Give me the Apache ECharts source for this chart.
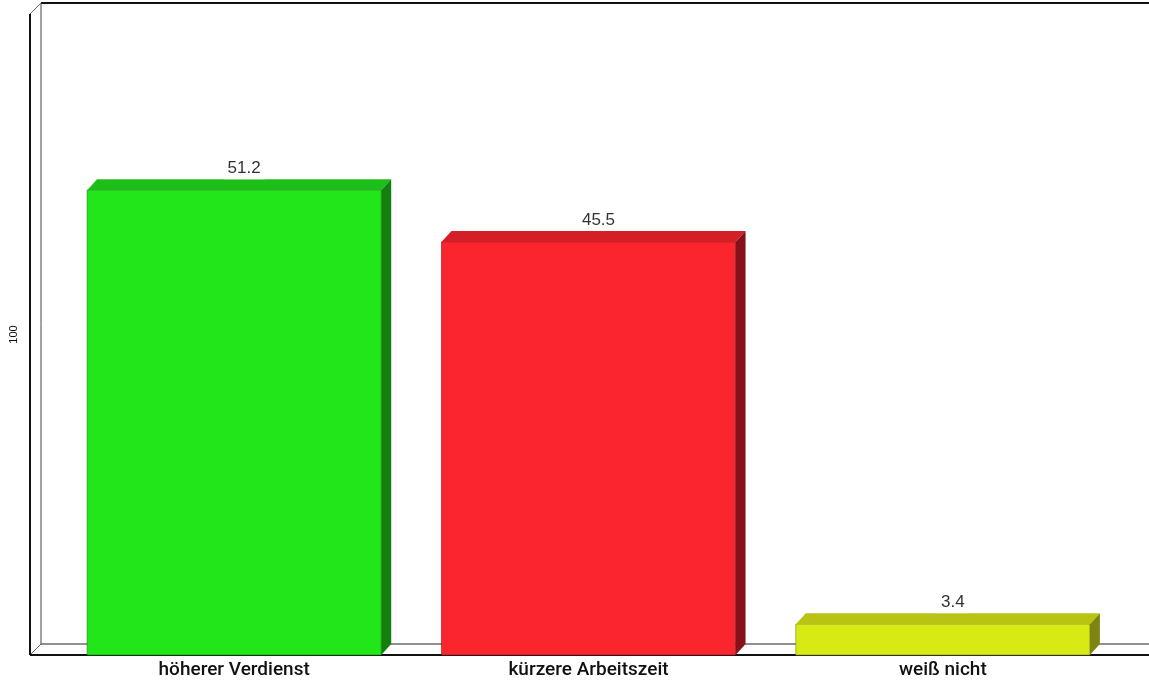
<!DOCTYPE html>
<html>
<head>
<meta charset="utf-8">
<script src="https://cdn.jsdelivr.net/npm/echarts@6/dist/echarts.min.js"></script>
<style>html,body{margin:0;padding:0;background:#fff}#c{width:1149px;height:686px}</style>
</head>
<body>
<div id="c"></div>
<script>
const categories = ['höherer Verdienst', 'kürzere Arbeitszeit', 'weiß nicht'];
const values = [51.2, 45.5, 3.4];
const axisName = '100';

const frontColors = ['#22E51A', '#FA252D', '#D8EA13'];
const topColors = ['#1DBE17', '#D41F26', '#B8C313'];
const sideColors = ['#137F0E', '#85121A', '#7C850F'];

const W = 1149, H = 686;
const DX = 10, DY = 11;
const F = { left: 30, top: 14, bottom: 655, right: W, dx: 11, dy: 11 };

const chart = echarts.init(document.getElementById('c'), null, { renderer: 'canvas' });

function line(x1, y1, x2, y2, w, c) {
  return { type: 'line', z: 0, silent: true, shape: { x1, y1, x2, y2 }, style: { stroke: c, lineWidth: w } };
}

const graphics = [
  line(F.left + F.dx, F.top - F.dy, F.right, F.top - F.dy, 2, '#111'),
  line(F.left + F.dx, F.top - F.dy, F.left + F.dx, F.bottom - F.dy, 1, '#444'),
  line(F.left + F.dx, F.bottom - F.dy, F.right, F.bottom - F.dy, 1, '#222'),
  line(F.left, F.top, F.left + F.dx, F.top - F.dy, 1, '#666'),
  line(F.left, F.bottom, F.left + F.dx, F.bottom - F.dy, 1, '#666'),
  line(F.left, F.top, F.left, F.bottom, 2, '#111'),
  line(F.left, F.bottom, F.right, F.bottom, 2, '#111')
];

chart.setOption({
  animation: false,
  backgroundColor: '#fff',
  grid: { left: 57, right: 29, top: 14, bottom: 31, containLabel: false },
  graphic: graphics,
  xAxis: {
    type: 'category',
    data: categories,
    axisLine: { show: false },
    axisTick: { show: false },
    axisLabel: { color: '#111', fontFamily: 'Roboto', fontWeight: 500, fontSize: 19, margin: 6 }
  },
  yAxis: {
    type: 'value',
    min: 0,
    max: 70.6,
    name: axisName,
    nameLocation: 'middle',
    nameRotate: 90,
    nameGap: 38,
    nameTextStyle: { color: '#111', fontSize: 11, fontFamily: 'Liberation Sans' },
    axisLine: { show: false },
    axisTick: { show: false },
    axisLabel: { show: false },
    splitLine: { show: false }
  },
  series: [{
    type: 'custom',
    z: 5,
    data: values.map((v, i) => [i, v]),
    encode: { x: 0, y: 1 },
    renderItem: function (params, api) {
      const idx = api.value(0);
      const v = api.value(1);
      const base = api.coord([idx, 0]);
      const top = api.coord([idx, v]);
      const bw = api.size([1, 0])[0] * 0.83;
      const x0 = base[0] - bw / 2, x1 = base[0] + bw / 2;
      const yb = base[1], yt = top[1];
      return {
        type: 'group',
        children: [
          { type: 'rect', shape: { x: x0, y: yt, width: bw, height: yb - yt },
            style: { fill: frontColors[idx], stroke: sideColors[idx], lineWidth: 0.6 } },
          { type: 'polygon', shape: { points: [[x0, yt], [x0 + DX, yt - DY], [x1 + DX, yt - DY], [x1, yt]] },
            style: { fill: topColors[idx] } },
          { type: 'polygon', shape: { points: [[x1, yt], [x1 + DX, yt - DY], [x1 + DX, yb - DY], [x1, yb]] },
            style: { fill: sideColors[idx] } },
          { type: 'text', z2: 10,
            style: { text: String(v), x: base[0] + DX, y: yt - DY, align: 'center', verticalAlign: 'bottom',
              fill: '#333', font: '17px "Liberation Sans", Arial, sans-serif',
              backgroundColor: '#fff', padding: [3, 4, 2, 4] } }
        ]
      };
    }
  }]
});
</script>
</body>
</html>
